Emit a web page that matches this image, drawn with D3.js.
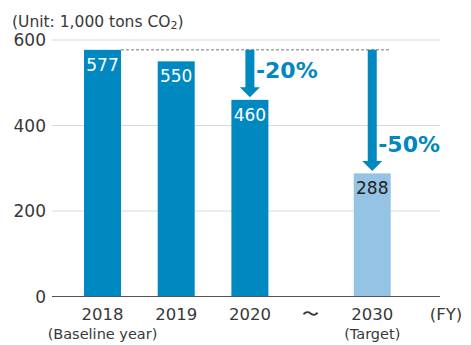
<!DOCTYPE html>
<html>
<head>
<meta charset="utf-8">
<script src="https://cdn.jsdelivr.net/npm/d3@7"></script>
<style>
  html, body { margin: 0; padding: 0; background: #fff; }
  svg text { font-family: "DejaVu Sans", sans-serif; }
</style>
</head>
<body>
<svg id="chart" width="471" height="345"></svg>
<script>
// CO2 emissions (1,000 tons CO2) by fiscal year
const years = ["2018", "2019", "2020", "2030"];
const values = [577, 550, 460, 288];
const subLabels = ["(Baseline year)", "", "", "(Target)"];
const yTicks = [0, 200, 400, 600];
const reductions = [{ year: "2020", text: "-20%" }, { year: "2030", text: "-50%" }];

const svg = d3.select("#chart");

// slot positions along the x axis; the jump to 2030 is compressed
const slot = { "2018": 0, "2019": 1, "2020": 2, "gap": 2.82, "2030": 3.66 };
const x = d3.scaleLinear().domain([0, 1]).range([102.5, 176.2]);
const barW = 37;

const y = d3.scaleLinear().domain([0, 600]).range([296.5, 40]);

const dark = "#0088c0";
const light = "#95c3e3";
const textCol = "#383838";

// gridlines
svg.append("g")
  .selectAll("line")
  .data(yTicks.filter(d => d > 0))
  .join("line")
  .attr("x1", 52).attr("x2", 440)
  .attr("y1", d => y(d)).attr("y2", d => y(d))
  .attr("stroke", "#cfdce6").attr("stroke-width", 1.2);

// y tick labels
svg.append("g")
  .selectAll("text")
  .data(yTicks)
  .join("text")
  .attr("x", 46).attr("y", d => y(d) + 6)
  .attr("text-anchor", "end")
  .attr("font-size", 17)
  .attr("fill", textCol)
  .text(d => d);

// unit label
svg.append("text")
  .attr("x", 12).attr("y", 27)
  .attr("font-size", 15.5).attr("fill", textCol)
  .html('(Unit: 1,000 tons CO<tspan font-size="11" dy="2">2</tspan><tspan dy="-2">)</tspan>');

// bars
const barData = years.map((yr, i) => ({ yr, v: values[i] }));
svg.append("g")
  .selectAll("rect")
  .data(barData)
  .join("rect")
  .attr("x", d => x(slot[d.yr]) - barW / 2)
  .attr("width", barW)
  .attr("y", d => y(d.v))
  .attr("height", d => y(0) - y(d.v))
  .attr("fill", d => d.yr === "2030" ? light : dark);

// value labels inside bars
svg.append("g")
  .selectAll("text")
  .data(barData)
  .join("text")
  .attr("x", d => x(slot[d.yr]))
  .attr("y", d => y(d.v) + 21)
  .attr("text-anchor", "middle")
  .attr("font-size", 17)
  .attr("fill", d => d.yr === "2030" ? "#222" : "#fff")
  .text(d => d.v);

// zero axis line
svg.append("line")
  .attr("x1", 52).attr("x2", 440)
  .attr("y1", y(0)).attr("y2", y(0))
  .attr("stroke", "#555").attr("stroke-width", 1);

// baseline reference (dashed) from the 2018 bar
const base = values[0];
svg.append("line")
  .attr("x1", x(slot["2018"]) + barW / 2).attr("x2", x(slot["2030"]) + barW / 2)
  .attr("y1", y(base)).attr("y2", y(base))
  .attr("stroke", "#777").attr("stroke-width", 1)
  .attr("stroke-dasharray", "3,2");

// reduction arrows
reductions.forEach(r => {
  const v = values[years.indexOf(r.year)];
  const cx = x(slot[r.year]);
  const y0 = y(base), y1 = y(v) - 2.5;
  const sw = 4.5, hw = 10, hh = 10;
  const pts = [
    [cx - sw, y0], [cx + sw, y0], [cx + sw, y1 - hh], [cx + hw, y1 - hh],
    [cx, y1], [cx - hw, y1 - hh], [cx - sw, y1 - hh]
  ];
  svg.append("path")
    .attr("d", d3.line()(pts) + "Z")
    .attr("fill", dark);
  svg.append("text")
    .attr("x", cx + 6)
    .attr("y", y1 - 19)
    .attr("font-size", 22).attr("font-weight", "bold")
    .attr("fill", dark)
    .text(r.text);
});

// x labels
const xl = svg.append("g");
years.forEach((yr, i) => {
  const cx = x(slot[yr]);
  xl.append("text")
    .attr("x", cx).attr("y", 320)
    .attr("text-anchor", "middle")
    .attr("font-size", 16.5).attr("fill", textCol)
    .text(yr);
  if (subLabels[i]) {
    xl.append("text")
      .attr("x", cx).attr("y", 339)
      .attr("text-anchor", "middle")
      .attr("font-size", 14.5).attr("fill", textCol)
      .text(subLabels[i]);
  }
});
xl.append("text")
  .attr("x", x(slot.gap)).attr("y", 320)
  .attr("text-anchor", "middle")
  .attr("font-size", 16.5).attr("fill", textCol)
  .text("〜");
xl.append("text")
  .attr("x", 446).attr("y", 320)
  .attr("text-anchor", "middle")
  .attr("font-size", 16.5).attr("fill", textCol)
  .text("(FY)");
</script>
</body>
</html>
